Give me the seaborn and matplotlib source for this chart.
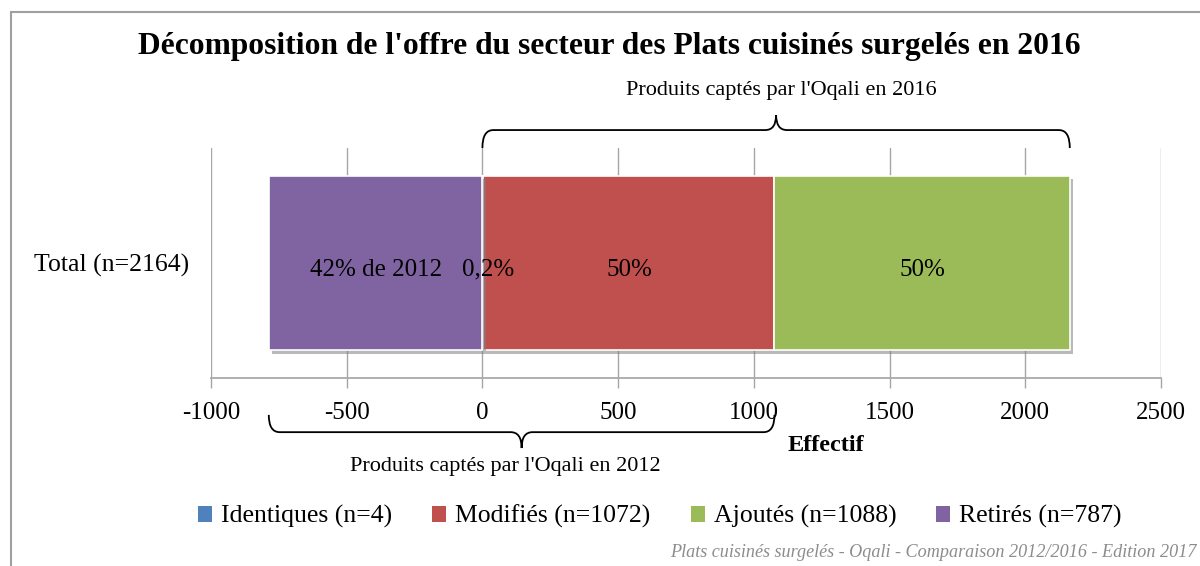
import matplotlib
matplotlib.use("Agg")
import matplotlib.pyplot as plt
import matplotlib.patheffects as pe
from matplotlib.patches import Patch, Rectangle, PathPatch
from matplotlib.path import Path
import matplotlib.transforms as mtransforms
import seaborn as sns

# data
categories = ["Total (n=2164)"]
identiques = [4]
modifies = [1072]
ajoutes = [1088]
retires = [787]
seg_labels = ["0,2%", "50%", "50%", "42% de 2012"]
legend_labels = ["Identiques (n=4)", "Modifiés (n=1072)", "Ajoutés (n=1088)", "Retirés (n=787)"]
colors = ["#4F81BD", "#C0504D", "#9BBB59", "#8064A2"]
xticks = [-1000, -500, 0, 500, 1000, 1500, 2000, 2500]

sns.set_theme(style="white")
plt.rcParams["font.family"] = ["Liberation Serif", "DejaVu Serif"]
plt.rcParams["text.color"] = "black"
plt.rcParams["xtick.labelcolor"] = "black"
plt.rcParams["ytick.labelcolor"] = "black"

fig = plt.figure(figsize=(12, 5.66), dpi=100)
ax = fig.add_axes([0.1758, 0.332, 0.7917, 0.4065])

shadow = [pe.SimplePatchShadow(offset=(2.5, -2.5), shadow_rgbFace="#808080", alpha=0.55), pe.Normal()]
bw = 0.76

# stacked segments: identiques, modifiés, ajoutés to the right; retirés to the left of 0
left = 0
starts = []
for vals, col in [(identiques, colors[0]), (modifies, colors[1]), (ajoutes, colors[2])]:
    sns.barplot(x=vals, y=categories, orient="h", left=left, color=col, width=bw,
                edgecolor="white", linewidth=1.2, errorbar=None, ax=ax, saturation=1)
    starts.append(left)
    left += vals[0]
total = left
sns.barplot(x=[-retires[0]], y=categories, orient="h", left=0, color=colors[3], width=bw,
            edgecolor="white", linewidth=1.2, errorbar=None, ax=ax, saturation=1)
for p in ax.patches:
    p.set_path_effects(shadow)
    p.set_zorder(3)

# segment labels
mids = [starts[0] + identiques[0] / 2 + 20, starts[1] + modifies[0] / 2,
        starts[2] + ajoutes[0] / 2, -retires[0] / 2]
for m, lab in zip(mids, seg_labels):
    ax.text(m, 0.03, lab, ha="center", va="center", fontsize=18, zorder=5)

ax.set_xlim(xticks[0], xticks[-1])
ax.set_ylim(0.5, -0.5)
ax.set_xticks(xticks)
ax.set_xticklabels([str(t) for t in xticks], fontsize=18)
ax.tick_params(axis="x", length=7, width=1, color="#a6a6a6", pad=10, bottom=True)
ax.tick_params(axis="y", labelsize=18.5, length=0, pad=16)
ax.grid(axis="x", color="#a6a6a6", linewidth=1)
ax.set_axisbelow(True)
for s in ["top", "right", "left"]:
    ax.spines[s].set_visible(False)
ax.spines["bottom"].set_color("#a6a6a6")
ax.set_xlabel("")
ax.set_ylabel("")


def brace(x0, x1, y_line, y_end, y_tip, r):
    xm = (x0 + x1) / 2
    verts = [(x0, y_end), (x0, y_line), (x0 + r, y_line),
             (xm - r, y_line), (xm, y_line), (xm, y_tip),
             (xm, y_line), (xm + r, y_line),
             (x1 - r, y_line), (x1, y_line), (x1, y_end)]
    codes = [Path.MOVETO, Path.CURVE3, Path.CURVE3,
             Path.LINETO, Path.CURVE3, Path.CURVE3,
             Path.CURVE3, Path.CURVE3,
             Path.LINETO, Path.CURVE3, Path.CURVE3]
    trans = mtransforms.blended_transform_factory(ax.transData, ax.transAxes)
    ax.add_patch(PathPatch(Path(verts, codes), fill=False, lw=1.3, edgecolor="black",
                           transform=trans, clip_on=False))
    return xm


trans = mtransforms.blended_transform_factory(ax.transData, ax.transAxes)
xm_top = brace(0, total, 1.078, 1.0, 1.143, 40)
ax.text(xm_top + 20, 1.25, "Produits captés par l'Oqali en 2016", transform=trans,
        ha="center", va="center", fontsize=16)
xm_bot = brace(-retires[0], identiques[0] + modifies[0], -0.235, -0.16, -0.304, 40)
ax.text(xm_bot - 60, -0.385, "Produits captés par l'Oqali en 2012", transform=trans,
        ha="center", va="center", fontsize=16)
ax.text(1265, -0.295, "Effectif", transform=trans, ha="center", va="center",
        fontsize=17.5, fontweight="bold")

fig.text(0.508, 0.918, "Décomposition de l'offre du secteur des Plats cuisinés surgelés en 2016",
         ha="center", va="center", fontsize=22.7, fontweight="bold")

handles = [Patch(facecolor=c, edgecolor="none") for c in colors]
fig.legend(handles, legend_labels, loc="center", bbox_to_anchor=(0.55, 0.087), ncol=4,
           frameon=False, fontsize=18.5, handlelength=0.55, handleheight=0.55,
           handletextpad=0.35, columnspacing=1.55)

fig.text(0.997, 0.023, "Plats cuisinés surgelés - Oqali - Comparaison 2012/2016 - Edition 2017",
         ha="right", va="center", fontsize=13.1, style="italic", color="#8c8c8c")

fig.patches.append(Rectangle((11 / 1200, -0.1), 1.2, 1 - 12 / 566 + 0.1, transform=fig.transFigure,
                             fill=False, edgecolor="#a0a0a0", lw=1.5, zorder=0))

fig.savefig("out.png", dpi=100, facecolor="white")
